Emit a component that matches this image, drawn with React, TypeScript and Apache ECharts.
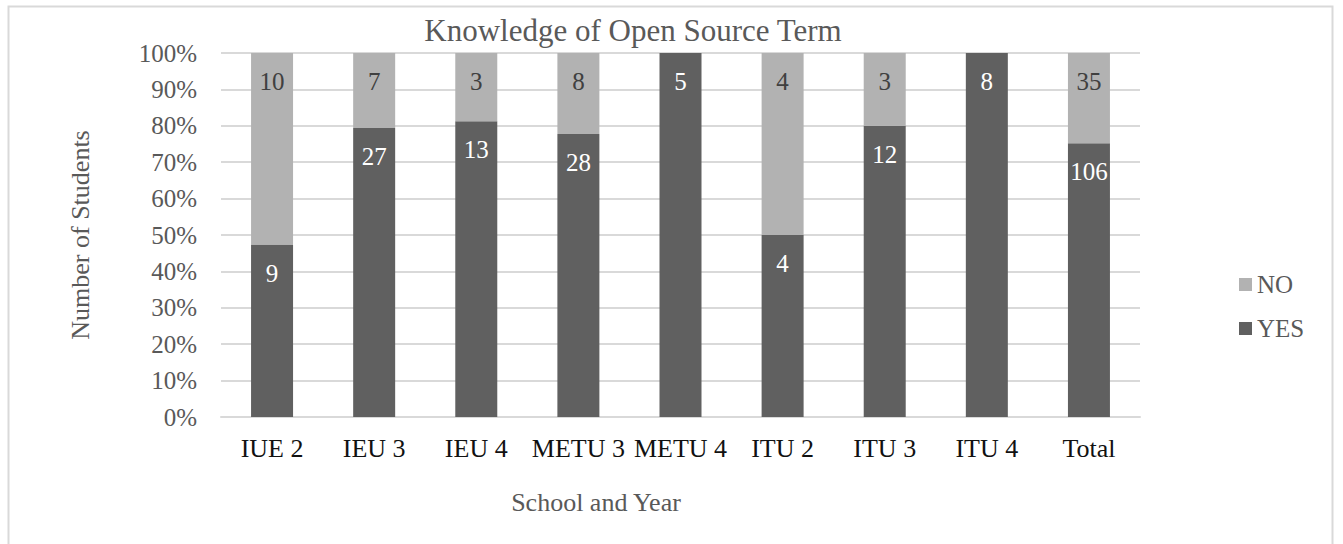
import React, { useEffect, useRef } from "react";
import * as echarts from "echarts";

const categories = ["IUE 2", "IEU 3", "IEU 4", "METU 3", "METU 4", "ITU 2", "ITU 3", "ITU 4", "Total"];
const yesCounts = [9, 27, 13, 28, 5, 4, 12, 8, 106];
const noCounts = [10, 7, 3, 8, 0, 4, 3, 0, 35];
const yTicks = [0, 10, 20, 30, 40, 50, 60, 70, 80, 90, 100];

const FONT = "Liberation Serif";

export default function App() {
  const ref = useRef<HTMLDivElement>(null);
  useEffect(() => {
    if (!ref.current) return;
    const chart = echarts.init(ref.current, null, { renderer: "svg" });
    const pct = (arr: number[]) =>
      arr.map((v, i) => ({ value: (v / (yesCounts[i] + noCounts[i])) * 100, raw: v }));
    const labelFmt = (p: any) => (p.data.raw ? String(p.data.raw) : "");
    chart.setOption({
      animation: false,
      textStyle: { fontFamily: FONT },
      title: {
        text: "Knowledge of Open Source Term",
        left: 628,
        top: 10,
        textAlign: "center",
        textStyle: { fontFamily: FONT, fontSize: 31, fontWeight: "normal", color: "#595959" },
      },
      legend: {
        orient: "vertical",
        left: 1234,
        top: 267,
        itemWidth: 13,
        itemHeight: 13,
        itemGap: 19,
        icon: "rect",
        data: ["NO", "YES"],
        textStyle: { fontFamily: FONT, fontSize: 25, color: "#595959" },
      },
      grid: { left: 221, right: 203, top: 53, bottom: 127, containLabel: false },
      xAxis: {
        type: "category",
        data: categories,
        axisLine: { lineStyle: { color: "#d9d9d9", width: 2 } },
        axisTick: { show: false },
        axisLabel: { fontFamily: FONT, fontSize: 26, color: "#111111", margin: 18, interval: 0 },
      },
      yAxis: {
        type: "value",
        min: yTicks[0],
        max: yTicks[yTicks.length - 1],
        interval: 10,
        name: "Number of Students",
        nameLocation: "middle",
        nameGap: 128,
        nameTextStyle: { fontFamily: FONT, fontSize: 26, color: "#595959" },
        axisLabel: { formatter: "{value}%", fontFamily: FONT, fontSize: 25, color: "#595959", margin: 24 },
        splitLine: { lineStyle: { color: "#d9d9d9", width: 2 } },
        axisLine: { show: false },
        axisTick: { show: false },
      },
      graphic: [
        {
          type: "rect",
          shape: { x: 8.5, y: 6.5, width: 1324, height: 600 },
          style: { fill: "none", stroke: "#d9d9d9", lineWidth: 2 },
          silent: true,
        },
        {
          type: "text",
          x: 596,
          y: 502,
          style: {
            text: "School and Year",
            fontFamily: FONT,
            fontSize: 26,
            fill: "#595959",
            align: "center",
            verticalAlign: "middle",
          },
        },
      ],
      series: [
        {
          name: "YES",
          type: "bar",
          stack: "total",
          barWidth: 42,
          data: pct(yesCounts),
          itemStyle: { color: "#606060" },
          label: {
            show: true,
            position: "insideTop",
            distance: 16,
            formatter: labelFmt,
            fontFamily: FONT,
            fontSize: 25,
            color: "#ffffff",
          },
        },
        {
          name: "NO",
          type: "bar",
          stack: "total",
          barWidth: 42,
          data: pct(noCounts),
          itemStyle: { color: "#b2b2b2" },
          label: {
            show: true,
            position: "insideTop",
            distance: 16,
            formatter: labelFmt,
            fontFamily: FONT,
            fontSize: 25,
            color: "#404040",
          },
        },
      ],
    });
    return () => chart.dispose();
  }, []);
  return (
    <div
      ref={ref}
      style={{ position: "fixed", left: 0, top: 0, width: 1343, height: 544, background: "#ffffff" }}
    />
  );
}
